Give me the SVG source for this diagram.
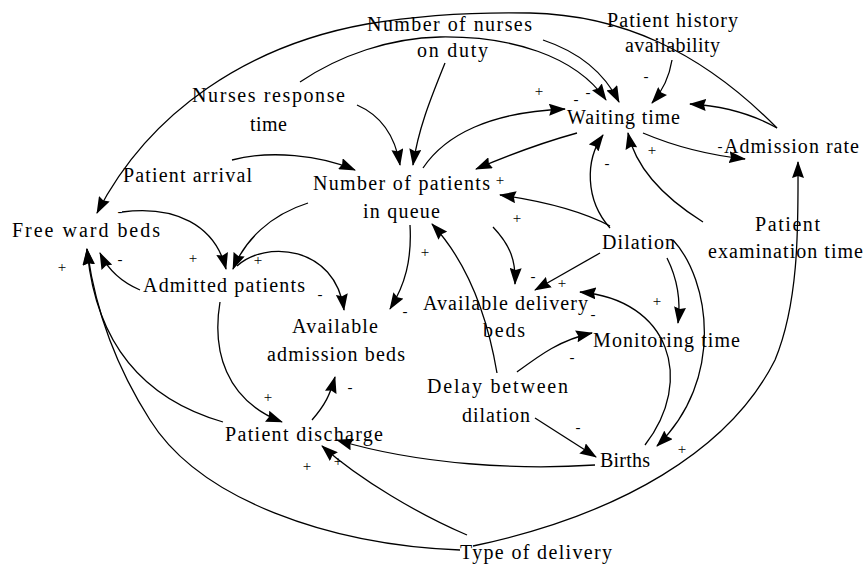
<svg xmlns="http://www.w3.org/2000/svg" width="866" height="567" viewBox="0 0 866 567">
  <defs>
    <marker id="ah" markerWidth="17" markerHeight="12" refX="16" refY="6" orient="auto" markerUnits="userSpaceOnUse">
      <path d="M0,0 L17,6 L0,12 L2,6 z" fill="#000"/>
    </marker>
    <style>
      .lbl { font-family: "Liberation Serif", "Times New Roman", serif; font-size: 20px; fill: #000; }
      .sgn { font-family: "Liberation Serif", "Times New Roman", serif; font-size: 15px; fill: #000; text-anchor: middle; dominant-baseline: central; }
      .cn { fill: none; stroke: #000; stroke-width: 1.3; marker-end: url(#ah); }
    </style>
  </defs>
  <rect width="866" height="567" fill="#fff"/>

  <!-- causal links -->
  <g id="connectors">
    <!-- Admission rate -> Free ward beds (outer top arc) -->
    <path class="cn" d="M777,128 C700,50 620,15 530,13 C480,12 420,15 367,24 C250,45 150,110 97,213"/>
    <!-- Nurses response time -> Waiting time -->
    <path class="cn" d="M300,82 C340,55 390,38 440,37 C510,36 575,55 606,100"/>
    <!-- Number of nurses on duty -> Waiting time -->
    <path class="cn" d="M543,40 Q597,58 619,102"/>
    <!-- Patient history availability -> Waiting time -->
    <path class="cn" d="M672,60 Q668,85 652,103"/>
    <!-- Admission rate -> Waiting time -->
    <path class="cn" d="M777,128 Q740,107 690,104"/>
    <!-- Waiting time -> Admission rate -->
    <path class="cn" d="M643,133 Q690,153 745,159"/>
    <!-- Number of patients in queue -> Waiting time -->
    <path class="cn" d="M423,168 C445,135 490,112 565,109"/>
    <!-- Waiting time -> Number of patients in queue -->
    <path class="cn" d="M577,133 Q530,146 476,169"/>
    <!-- Dilation -> Waiting time -->
    <path class="cn" d="M610,228 C585,200 585,160 603,135"/>
    <!-- Patient examination time -> Waiting time -->
    <path class="cn" d="M703,222 C660,195 635,165 628,133"/>
    <!-- Type of delivery -> Admission rate -->
    <path class="cn" d="M473,546 C620,515 730,450 775,360 C800,300 798,220 798,162"/>
    <!-- Type of delivery -> Free ward beds -->
    <path class="cn" d="M460,550 C330,545 200,500 150,420 C115,365 95,310 87,249"/>
    <!-- Patient discharge -> Free ward beds -->
    <path class="cn" d="M223,422 C140,398 95,340 87,249"/>
    <!-- Admitted patients -> Free ward beds -->
    <path class="cn" d="M140,290 Q112,278 100,253"/>
    <!-- Free ward beds -> Admitted patients -->
    <path class="cn" d="M122,212 C175,205 215,225 226,269"/>
    <!-- Number of patients in queue -> Admitted patients -->
    <path class="cn" d="M308,203 C270,215 245,240 233,269"/>
    <!-- Admitted patients -> Available admission beds -->
    <path class="cn" d="M237,266 C265,240 335,245 344,310"/>
    <!-- Number of patients in queue -> Available admission beds -->
    <path class="cn" d="M410,225 C412,260 405,285 390,309"/>
    <!-- Delay between dilation -> Number of patients in queue -->
    <path class="cn" d="M497,373 C488,320 470,265 432,224"/>
    <!-- Number of patients in queue -> Available delivery beds -->
    <path class="cn" d="M493,227 C510,245 516,260 515,284"/>
    <!-- Dilation -> Number of patients in queue -->
    <path class="cn" d="M610,226 Q570,205 500,195"/>
    <!-- Dilation -> Available delivery beds -->
    <path class="cn" d="M600,253 L535,290"/>
    <!-- Births -> Available delivery beds -->
    <path class="cn" d="M645,445 C695,380 670,300 580,292"/>
    <!-- Dilation -> Monitoring time -->
    <path class="cn" d="M667,258 C678,280 681,300 678,323"/>
    <!-- Dilation -> Births -->
    <path class="cn" d="M673,240 C710,280 725,380 657,446"/>
    <!-- Delay between dilation -> Monitoring time -->
    <path class="cn" d="M517,372 C540,355 560,340 592,333"/>
    <!-- Delay between dilation -> Births -->
    <path class="cn" d="M535,418 L596,457"/>
    <!-- Births -> Patient discharge -->
    <path class="cn" d="M595,465 C520,470 420,465 337,440"/>
    <!-- Type of delivery -> Patient discharge -->
    <path class="cn" d="M467,535 C420,515 360,480 322,446"/>
    <!-- Patient discharge -> Available admission beds -->
    <path class="cn" d="M312,420 C325,405 330,395 335,377"/>
    <!-- Admitted patients -> Patient discharge -->
    <path class="cn" d="M220,302 C212,350 225,400 282,422"/>
    <!-- Patient arrival -> Number of patients in queue -->
    <path class="cn" d="M232,160 C270,150 320,155 355,170"/>
    <!-- Nurses response time -> Number of patients in queue -->
    <path class="cn" d="M357,105 C380,115 395,135 400,165"/>
    <!-- Number of nurses on duty -> Number of patients in queue -->
    <path class="cn" d="M445,63 C430,100 418,130 413,165"/>
  </g>

  <!-- link polarities -->
  <g id="signs">
    <text class="sgn" x="539" y="91">+</text>
    <text class="sgn" x="576" y="99">-</text>
    <text class="sgn" x="588" y="92">-</text>
    <text class="sgn" x="646" y="76">-</text>
    <text class="sgn" x="652" y="150">+</text>
    <text class="sgn" x="607" y="163">-</text>
    <text class="sgn" x="500" y="180">+</text>
    <text class="sgn" x="517" y="218">+</text>
    <text class="sgn" x="120" y="211">-</text>
    <text class="sgn" x="62" y="267">+</text>
    <text class="sgn" x="120" y="259">-</text>
    <text class="sgn" x="193" y="258">+</text>
    <text class="sgn" x="258" y="260">+</text>
    <text class="sgn" x="320" y="294">-</text>
    <text class="sgn" x="425" y="252">+</text>
    <text class="sgn" x="405" y="311">-</text>
    <text class="sgn" x="533" y="276">-</text>
    <text class="sgn" x="562" y="283">+</text>
    <text class="sgn" x="593" y="314">-</text>
    <text class="sgn" x="657" y="301">+</text>
    <text class="sgn" x="572" y="357">-</text>
    <text class="sgn" x="578" y="427">-</text>
    <text class="sgn" x="682" y="449">+</text>
    <text class="sgn" x="350" y="387">-</text>
    <text class="sgn" x="268" y="397">+</text>
    <text class="sgn" x="307" y="466">+</text>
    <text class="sgn" x="338" y="461">+</text>
    <text class="sgn" x="720" y="146">-</text>
  </g>

  <!-- variables -->
  <g id="nurses-on-duty">
    <text class="lbl" x="367" y="31" textLength="165" lengthAdjust="spacing">Number of nurses</text>
    <text class="lbl" x="417" y="57" textLength="71" lengthAdjust="spacing">on duty</text>
  </g>
  <g id="patient-history">
    <text class="lbl" x="607" y="27" textLength="131" lengthAdjust="spacing">Patient history</text>
    <text class="lbl" x="625" y="52" textLength="95" lengthAdjust="spacing">availability</text>
  </g>
  <g id="nurses-response">
    <text class="lbl" x="192" y="102" textLength="153" lengthAdjust="spacing">Nurses response</text>
    <text class="lbl" x="250" y="131" textLength="37" lengthAdjust="spacing">time</text>
  </g>
  <g id="waiting-time">
    <text class="lbl" x="567" y="124" textLength="113" lengthAdjust="spacing">Waiting time</text>
  </g>
  <g id="admission-rate">
    <text class="lbl" x="724" y="153" textLength="135" lengthAdjust="spacing">Admission rate</text>
  </g>
  <g id="patient-arrival">
    <text class="lbl" x="123" y="182" textLength="129" lengthAdjust="spacing">Patient arrival</text>
  </g>
  <g id="patients-in-queue">
    <text class="lbl" x="313" y="190" textLength="177" lengthAdjust="spacing">Number of patients</text>
    <text class="lbl" x="363" y="218" textLength="77" lengthAdjust="spacing">in queue</text>
  </g>
  <g id="free-ward-beds">
    <text class="lbl" x="12" y="237" textLength="148" lengthAdjust="spacing">Free ward beds</text>
  </g>
  <g id="examination-time">
    <text class="lbl" x="755" y="231" textLength="65" lengthAdjust="spacing">Patient</text>
    <text class="lbl" x="708" y="258" textLength="155" lengthAdjust="spacing">examination time</text>
  </g>
  <g id="dilation">
    <text class="lbl" x="602" y="249" textLength="73" lengthAdjust="spacing">Dilation</text>
  </g>
  <g id="admitted-patients">
    <text class="lbl" x="143" y="292" textLength="162" lengthAdjust="spacing">Admitted patients</text>
  </g>
  <g id="delivery-beds">
    <text class="lbl" x="423" y="310" textLength="165" lengthAdjust="spacing">Available delivery</text>
    <text class="lbl" x="483" y="337" textLength="42" lengthAdjust="spacing">beds</text>
  </g>
  <g id="admission-beds">
    <text class="lbl" x="292" y="333" textLength="86" lengthAdjust="spacing">Available</text>
    <text class="lbl" x="267" y="361" textLength="138" lengthAdjust="spacing">admission beds</text>
  </g>
  <g id="monitoring-time">
    <text class="lbl" x="593" y="347" textLength="147" lengthAdjust="spacing">Monitoring time</text>
  </g>
  <g id="dilation-delay">
    <text class="lbl" x="427" y="393" textLength="141" lengthAdjust="spacing">Delay between</text>
    <text class="lbl" x="462" y="422" textLength="68" lengthAdjust="spacing">dilation</text>
  </g>
  <g id="patient-discharge">
    <text class="lbl" x="225" y="441" textLength="158" lengthAdjust="spacing">Patient discharge</text>
  </g>
  <g id="births">
    <text class="lbl" x="600" y="467" textLength="50" lengthAdjust="spacing">Births</text>
  </g>
  <g id="type-of-delivery">
    <text class="lbl" x="460" y="559" textLength="152" lengthAdjust="spacing">Type of delivery</text>
  </g>
</svg>
